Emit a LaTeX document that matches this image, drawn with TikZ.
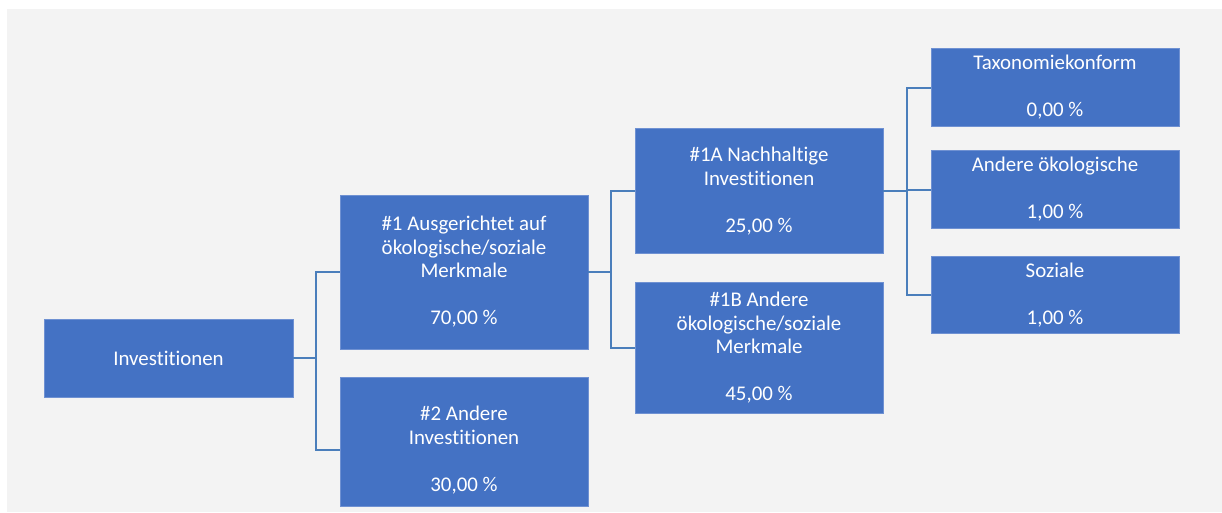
\documentclass[tikz,border=0pt]{standalone}
\usepackage{fontspec}
\setmainfont[RawFeature=-liga]{Carlito}
\definecolor{boxblue}{HTML}{4472C4}
\definecolor{boxedge}{HTML}{6F91D2}
\definecolor{linkblue}{HTML}{4A7EBB}
\definecolor{bggray}{HTML}{F3F3F3}
\tikzset{
  box/.style={rectangle, fill=boxblue, draw=boxedge, line width=0.8pt,
    text=white, align=center, inner sep=0pt,
    font=\fontsize{20.9}{23.5}\selectfont},
  txt/.style={text=white, align=center, inner sep=0pt,
    font=\fontsize{20.9}{23.5}\selectfont},
  link/.style={draw=linkblue, line width=2pt}
}
\begin{document}
\begin{tikzpicture}[x=1pt,y=-1pt]
\useasboundingbox (0,0) rectangle (1222,512);
\fill[bggray] (7,9) rectangle (1222,512);
% boxes
\node[box, minimum width=249pt, minimum height=78pt] (inv) at (168.5,358) {Investitionen};
\node[box, minimum width=248pt, minimum height=154pt] (n1) at (464,272) {\#1 Ausgerichtet auf\\ökologische/soziale\\Merkmale\\[23.5pt]70,00 \%};
\node[box, minimum width=248pt, minimum height=129pt] (n2) at (464,441.5) {};
\node[txt] (n2t) at (464,450) {\#2 Andere\\Investitionen\\[23.5pt]30,00 \%};
\node[box, minimum width=248pt, minimum height=125pt] (n1a) at (759,191) {\#1A Nachhaltige\\Investitionen\\[23.5pt]25,00 \%};
\node[box, minimum width=248pt, minimum height=131pt] (n1b) at (759,348) {\#1B Andere\\ökologische/soziale\\Merkmale\\[23.5pt]45,00 \%};
\node[box, minimum width=248pt, minimum height=78pt] (tax) at (1055,87.5) {Taxonomiekonform\\[23.5pt]0,00 \%};
\node[box, minimum width=248pt, minimum height=78pt] (oek) at (1055,189.5) {Andere ökologische\\[23.5pt]1,00 \%};
\node[box, minimum width=248pt, minimum height=77pt] (soz) at (1055,295) {Soziale\\[23.5pt]1,00 \%};
% branch points
\coordinate (b1) at (316,0);
\coordinate (b2) at (611,0);
\coordinate (b3) at (907,0);
% connectors
\draw[link] (inv.east) -- (b1 |- inv.east);
\draw[link] (n1.west) -| (b1 |- n2t) -- (n2.west |- n2t);
\draw[link] (n1.east) -- (b2 |- n1.east);
\draw[link] (n1a.west) -| (b2 |- n1b.west) -- (n1b.west);
\draw[link] (n1a.east) -- (b3 |- n1a.east);
\draw[link] (tax.west) -| (b3 |- soz.west) -- (soz.west);
\draw[link] (b3 |- oek.west) -- (oek.west);
\end{tikzpicture}
\end{document}
